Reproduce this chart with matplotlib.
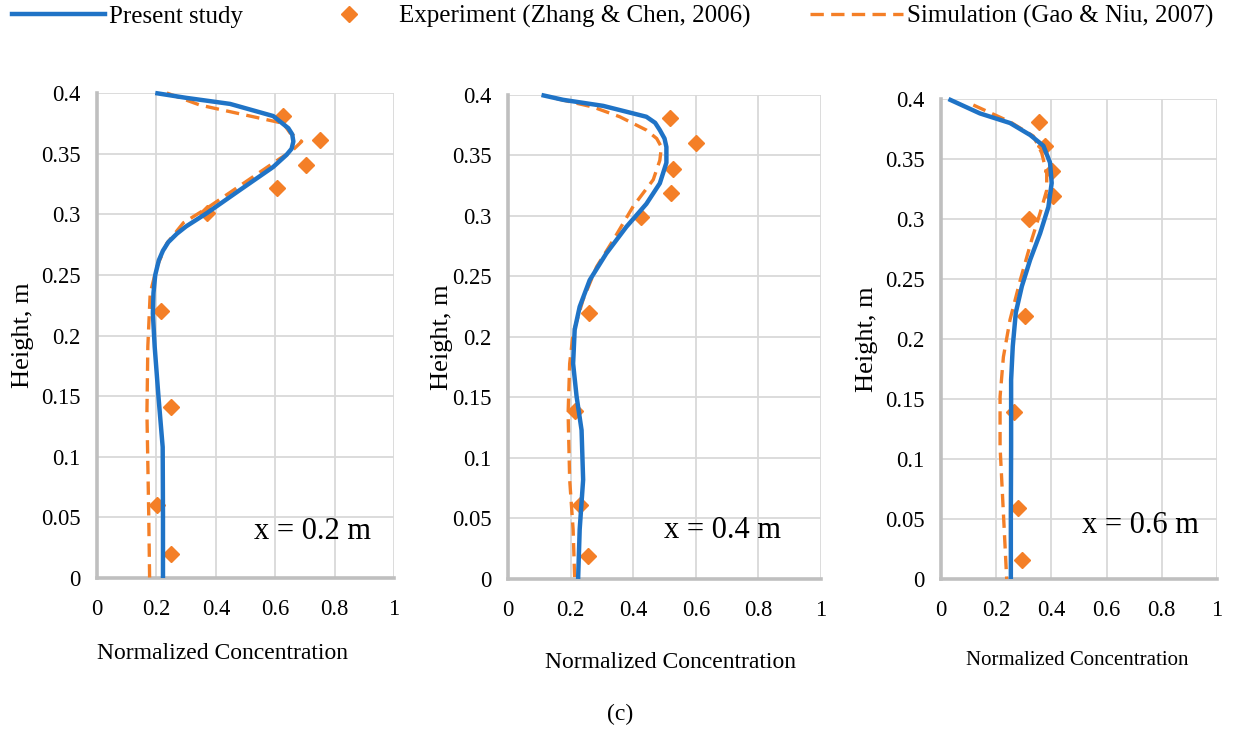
import numpy as np
import matplotlib
matplotlib.use("Agg")
import matplotlib.pyplot as plt
from matplotlib.lines import Line2D

plt.rcParams['font.family'] = ['Liberation Serif', 'DejaVu Serif']

# ---- data ----
# x = 0.2 m
p1_cfd_c = [0.196, 0.300, 0.448, 0.593, 0.644, 0.657, 0.661, 0.655, 0.638, 0.593, 0.481, 0.370, 0.300, 0.269, 0.240, 0.222, 0.208, 0.196, 0.190, 0.188, 0.194, 0.207, 0.221, 0.222, 0.222]
p1_cfd_h = [0.400, 0.396, 0.391, 0.381, 0.371, 0.366, 0.360, 0.354, 0.349, 0.339, 0.320, 0.301, 0.290, 0.284, 0.277, 0.270, 0.262, 0.250, 0.235, 0.218, 0.191, 0.149, 0.108, 0.053, 0.000]
p1_sim_c = [0.235, 0.347, 0.515, 0.627, 0.650, 0.689, 0.655, 0.616, 0.526, 0.370, 0.291, 0.235, 0.202, 0.179, 0.171, 0.168, 0.174, 0.177]
p1_sim_h = [0.400, 0.390, 0.381, 0.375, 0.367, 0.360, 0.352, 0.346, 0.331, 0.305, 0.293, 0.276, 0.257, 0.235, 0.191, 0.136, 0.053, 0.000]
p1_exp_c = [0.627, 0.750, 0.702, 0.605, 0.370, 0.217, 0.249, 0.202, 0.249]
p1_exp_h = [0.381, 0.361, 0.341, 0.322, 0.301, 0.220, 0.141, 0.060, 0.020]

# x = 0.4 m
p2_cfd_c = [0.107, 0.176, 0.304, 0.442, 0.470, 0.485, 0.500, 0.506, 0.506, 0.485, 0.442, 0.378, 0.314, 0.261, 0.229, 0.213, 0.208, 0.219, 0.235, 0.240, 0.229, 0.224]
p2_cfd_h = [0.400, 0.396, 0.391, 0.382, 0.377, 0.371, 0.364, 0.357, 0.344, 0.327, 0.310, 0.291, 0.269, 0.247, 0.225, 0.206, 0.178, 0.151, 0.123, 0.082, 0.041, 0.000]
p2_sim_c = [0.155, 0.272, 0.357, 0.442, 0.475, 0.490, 0.485, 0.464, 0.400, 0.336, 0.283, 0.240, 0.208, 0.197, 0.192, 0.197, 0.208, 0.213]
p2_sim_h = [0.397, 0.390, 0.382, 0.371, 0.364, 0.357, 0.346, 0.330, 0.308, 0.280, 0.258, 0.231, 0.203, 0.178, 0.137, 0.082, 0.041, 0.000]
p2_exp_c = [0.517, 0.600, 0.528, 0.522, 0.426, 0.259, 0.213, 0.231, 0.256]
p2_exp_h = [0.381, 0.360, 0.339, 0.319, 0.299, 0.220, 0.139, 0.061, 0.019]

# x = 0.6 m
p3_cfd_c = [0.027, 0.141, 0.250, 0.323, 0.371, 0.395, 0.401, 0.389, 0.359, 0.323, 0.293, 0.271, 0.260, 0.254, 0.254, 0.253, 0.253]
p3_cfd_h = [0.400, 0.388, 0.380, 0.370, 0.361, 0.347, 0.330, 0.310, 0.288, 0.266, 0.244, 0.222, 0.194, 0.166, 0.110, 0.055, 0.000]
p3_sim_c = [0.117, 0.250, 0.335, 0.365, 0.383, 0.383, 0.359, 0.329, 0.287, 0.250, 0.226, 0.214, 0.214, 0.226, 0.238]
p3_sim_h = [0.395, 0.381, 0.369, 0.355, 0.338, 0.324, 0.305, 0.283, 0.249, 0.216, 0.185, 0.152, 0.110, 0.055, 0.000]
p3_exp_c = [0.356, 0.377, 0.401, 0.405, 0.317, 0.305, 0.266, 0.278, 0.293]
p3_exp_h = [0.381, 0.361, 0.340, 0.319, 0.300, 0.219, 0.139, 0.059, 0.016]

panel_labels = ['x = 0.2 m', 'x = 0.4 m', 'x = 0.6 m']
y_ticks = [0, 0.05, 0.1, 0.15, 0.2, 0.25, 0.3, 0.35, 0.4]
y_ticklabels = ['0', '0.05', '0.1', '0.15', '0.2', '0.25', '0.3', '0.35', '0.4']
x_ticks = [0, 0.2, 0.4, 0.6, 0.8, 1]
x_ticklabels = ['0', '0.2', '0.4', '0.6', '0.8', '1']
series_names = ['Present study', 'Experiment (Zhang & Chen, 2006)', 'Simulation (Gao & Niu, 2007)']

blue = '#1f73c6'
orange = '#f47f27'

fig = plt.figure(figsize=(12.33, 7.34), dpi=100)

# axes placement (figure fractions)
rects = [[0.0787, 0.2125, 0.2409, 0.6608],
         [0.4120, 0.2112, 0.2539, 0.6594],
         [0.7632, 0.2112, 0.2238, 0.6539]]
ylab_x = [-0.212, -0.176, -0.228]
xlab_pos = [(0.424, -0.134), (0.518, -0.151), (0.493, -0.150)]
xlab_size = [17, 17, 15]
txt_pos = [(0.727, 0.095), (0.684, 0.101), (0.721, 0.112)]

data = [(p1_cfd_c, p1_cfd_h, p1_sim_c, p1_sim_h, p1_exp_c, p1_exp_h),
        (p2_cfd_c, p2_cfd_h, p2_sim_c, p2_sim_h, p2_exp_c, p2_exp_h),
        (p3_cfd_c, p3_cfd_h, p3_sim_c, p3_sim_h, p3_exp_c, p3_exp_h)]

for i in range(3):
    cc, ch, sc, sh, ec, eh = data[i]
    ax = fig.add_axes(rects[i])
    ax.plot(ec, eh, linestyle='none', marker='D', markersize=8.5, color=orange, zorder=3, clip_on=False)
    ax.plot(sc, sh, color=orange, linewidth=2.4, dashes=(4, 2.2), zorder=4, clip_on=False)
    ax.plot(cc, ch, color=blue, linewidth=3.2, zorder=5, clip_on=False,
            solid_capstyle='butt', solid_joinstyle='round')
    ax.set_xlim(0, 1)
    ax.set_ylim(0, 0.4)
    ax.set_xticks(x_ticks)
    ax.set_xticklabels(x_ticklabels)
    ax.set_yticks(y_ticks)
    ax.set_yticklabels(y_ticklabels)
    ax.tick_params(axis='both', length=0, labelsize=16.3)
    ax.tick_params(axis='y', pad=12)
    ax.tick_params(axis='x', pad=15)
    ax.grid(True, color='#d9d9d9', linewidth=1.3, zorder=0)
    ax.set_axisbelow(True)
    for s in ['top', 'right']:
        ax.spines[s].set_visible(False)
    for s in ['left', 'bottom']:
        ax.spines[s].set_color('#bfbfbf')
        ax.spines[s].set_linewidth(2.6)
    ax.set_ylabel('Height, m', fontsize=19)
    ax.yaxis.set_label_coords(ylab_x[i], 0.5)
    ax.set_xlabel('Normalized Concentration', fontsize=xlab_size[i])
    ax.xaxis.set_label_coords(xlab_pos[i][0], xlab_pos[i][1])
    ax.text(txt_pos[i][0], txt_pos[i][1], panel_labels[i], transform=ax.transAxes,
            fontsize=22, ha='center', va='center')

handles = [Line2D([], [], color=blue, linewidth=3.2),
           Line2D([], [], linestyle='none', marker='D', markersize=8.5, color=orange),
           Line2D([], [], color=orange, linewidth=2.4, dashes=(4, 2.2))]
fig.legend(handles, series_names, loc='center', bbox_to_anchor=(0.497, 0.977), ncol=3,
           frameon=False, fontsize=18, handlelength=3.7, handletextpad=0.15,
           columnspacing=2.4, borderaxespad=0, borderpad=0)

fig.text(0.503, 0.026, '(c)', ha='center', va='center', fontsize=17)

fig.savefig('out.png', dpi=100)
